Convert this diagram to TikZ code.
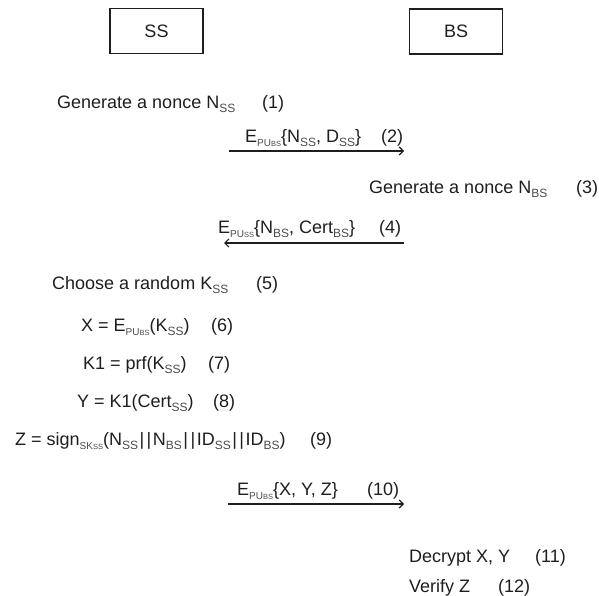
\documentclass[tikz,border=0pt]{standalone}
\usepackage{fontspec}
\setmainfont{Liberation Sans}
\usetikzlibrary{arrows.meta}
\definecolor{ink}{RGB}{30,30,30}
\definecolor{subink}{RGB}{75,75,75}
\newcommand\sbx[1]{\raisebox{-0.2em}{\fontsize{12}{13}\selectfont\color{subink}#1}}
\newcommand\sbp[1]{\raisebox{-0.2em}{\fontsize{10}{11}\selectfont\color{subink}#1}}
\newcommand\sbq[1]{{\fontsize{7.5}{8}\selectfont #1}}
\newcommand\dbar{\hspace{1.5pt}|\hspace{2.5pt}|\hspace{1.5pt}}
\begin{document}
\begin{tikzpicture}[x=1pt,y=-1pt,
  txt/.style={anchor=base west,inner sep=0pt,text=ink,font=\fontsize{18}{20}\selectfont},
  party/.style={draw=ink,line width=1.7pt,minimum width=93pt,minimum height=45pt,inner sep=0pt,text=ink,font=\fontsize{18}{20}\selectfont},
  msg/.style={draw=ink,line width=1.4pt,-{Straight Barb[length=4pt,width=8pt,line width=1.2pt]}}]
\useasboundingbox (0,0) rectangle (599,596);
% parties
\node[party] (ss) at (156.5,31) {SS};
\node[party] (bs) at (456,31.5) {BS};
% (1)
\node[txt] (t1) at (57,108.5) {Generate a nonce N\sbx{SS}};
\node[txt] (n1) at (262,108.5) {(1)};
% (2)
\node[txt] (t2) at (245,142.5) {E\sbp{PU\sbq{BS}}\{N\sbx{SS}, D\sbx{SS}\}};
\node[txt] (n2) at (381,142.5) {(2)};
\coordinate (a2s) at (229,151);
\coordinate (a2e) at (404,151);
\draw[msg] (a2s) -- (a2e);
% (3)
\node[txt] (t3) at (369,193.5) {Generate a nonce N\sbx{BS}};
\node[txt] (n3) at (576,193.5) {(3)};
% (4)
\node[txt] (t4) at (218,233.5) {E\sbp{PU\sbq{SS}}\{N\sbx{BS}, Cert\sbx{BS}\}};
\node[txt] (n4) at (379,233.5) {(4)};
\coordinate (a4s) at (404,243);
\coordinate (a4e) at (224,243);
\draw[msg] (a4s) -- (a4e);
% (5)
\node[txt] (t5) at (52,289.5) {Choose a random K\sbx{SS}};
\node[txt] (n5) at (256,289.5) {(5)};
% (6)
\node[txt] (t6) at (81,331.5) {X = E\sbp{PU\sbq{BS}}(K\sbx{SS})};
\node[txt] (n6) at (211,331.5) {(6)};
% (7)
\node[txt] (t7) at (83,369.5) {K1 = prf(K\sbx{SS})};
\node[txt] (n7) at (208,369.5) {(7)};
% (8)
\node[txt] (t8) at (77,407.5) {Y = K1(Cert\sbx{SS})};
\node[txt] (n8) at (213,407.5) {(8)};
% (9)
\node[txt] (t9) at (15,445.5) {Z = sign\sbp{SK\sbq{SS}}(N\sbx{SS}\dbar N\sbx{BS}\dbar ID\sbx{SS}\dbar ID\sbx{BS})};
\node[txt] (n9) at (310,445.5) {(9)};
% (10)
\node[txt] (t10) at (237,495.5) {E\sbp{PU\sbq{BS}}\{X, Y, Z\}};
\node[txt] (n10) at (367,495.5) {(10)};
\coordinate (a10s) at (228,504);
\coordinate (a10e) at (404,504);
\draw[msg] (a10s) -- (a10e);
% (11), (12)
\node[txt] (t11) at (409,562.5) {Decrypt X, Y};
\node[txt] (n11) at (535,562.5) {(11)};
\node[txt] (t12) at (409,592) {Verify Z};
\node[txt] (n12) at (498,592) {(12)};
\end{tikzpicture}
\end{document}
